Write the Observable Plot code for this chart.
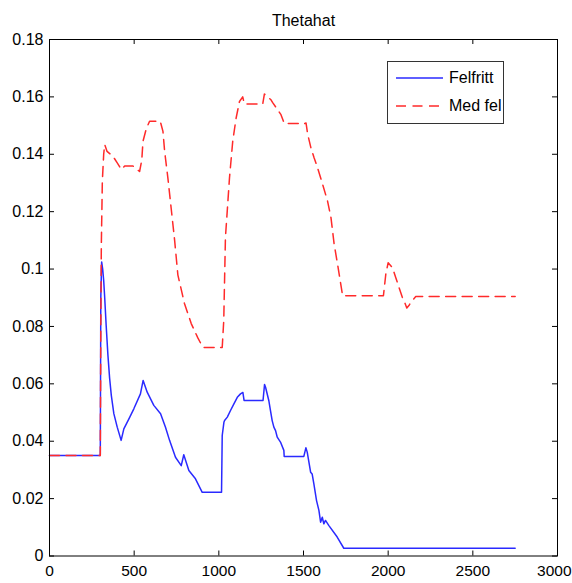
<!DOCTYPE html>
<html>
<head>
<meta charset="utf-8">
<script src="https://cdn.jsdelivr.net/npm/d3@7"></script>
<script src="https://cdn.jsdelivr.net/npm/@observablehq/plot@0.6"></script>
<style>
  html, body { margin: 0; padding: 0; background: #fff; }
  #wrap { position: relative; width: 572px; height: 583px; font-family: "Liberation Sans", Arial, sans-serif; }
  #legend { position: absolute; left: 387px; top: 61px; width: 115px; height: 61px; border: 1.5px solid #333; background: #fff; font-size: 16px; color: #000; }
  .row { position: absolute; left: 0; height: 20px; width: 100%; white-space: nowrap; }
  .row svg { position: absolute; left: 8px; top: 0; }
  .row span { position: absolute; left: 61px; top: 0; line-height: 20px; }
</style>
</head>
<body>
<div id="wrap"><div id="legend"></div></div>
<script>
const title = "Thetahat";
const seriesNames = ["Felfritt", "Med fel"];
const xTicks = [0, 500, 1000, 1500, 2000, 2500, 3000];
const yTicks = [0, 0.02, 0.04, 0.06, 0.08, 0.1, 0.12, 0.14, 0.16, 0.18];

const felfrittX = [0, 300, 303, 308, 314, 320, 326, 335, 345, 355, 365, 380, 400, 423, 439, 469, 498, 537, 553, 577, 616, 656, 685, 709, 744, 778, 793, 823, 862, 902, 1016, 1020, 1030, 1034, 1050, 1069, 1089, 1109, 1128, 1142, 1149, 1261, 1270, 1276, 1295, 1305, 1315, 1325, 1335, 1345, 1364, 1384, 1386, 1502, 1514, 1522, 1542, 1551, 1561, 1577, 1591, 1601, 1611, 1620, 1630, 1650, 1699, 1738, 2750];
const felfrittY = [0.035, 0.035, 0.09, 0.1025, 0.1, 0.096, 0.09, 0.08, 0.07, 0.062, 0.056, 0.0496, 0.0449, 0.0403, 0.0443, 0.0478, 0.0513, 0.0565, 0.0612, 0.0571, 0.0525, 0.0496, 0.0449, 0.0403, 0.0344, 0.0315, 0.0353, 0.0298, 0.0269, 0.0222, 0.0222, 0.042, 0.0466, 0.0472, 0.0484, 0.0507, 0.053, 0.0553, 0.0565, 0.057, 0.0542, 0.0542, 0.0598, 0.0588, 0.0542, 0.0507, 0.0472, 0.0449, 0.0437, 0.0414, 0.0397, 0.0368, 0.0347, 0.0347, 0.0377, 0.0362, 0.0292, 0.0286, 0.0252, 0.0193, 0.0159, 0.0118, 0.0135, 0.0112, 0.0124, 0.0106, 0.0066, 0.0027, 0.0027];

const medFelX = [0, 300, 303, 306, 312, 320, 326, 340, 375, 400, 424, 444, 493, 532, 545, 552, 572, 591, 654, 670, 680, 699, 739, 758, 797, 837, 876, 906, 1020, 1029, 1039, 1063, 1082, 1102, 1122, 1141, 1151, 1259, 1269, 1308, 1318, 1367, 1387, 1505, 1515, 1525, 1544, 1563, 1583, 1613, 1642, 1662, 1681, 1701, 1717, 1731, 1972, 1986, 2000, 2025, 2045, 2064, 2084, 2100, 2110, 2125, 2133, 2163, 2750];
const medFelY = [0.035, 0.035, 0.08, 0.108, 0.1306, 0.14, 0.1434, 0.141, 0.1393, 0.137, 0.1347, 0.1359, 0.1359, 0.134, 0.138, 0.1445, 0.149, 0.1515, 0.1515, 0.148, 0.141, 0.1318, 0.11, 0.098, 0.088, 0.081, 0.076, 0.0727, 0.0727, 0.082, 0.111, 0.1318, 0.1445, 0.1526, 0.1584, 0.160, 0.1575, 0.1575, 0.161, 0.159, 0.158, 0.1538, 0.1507, 0.1507, 0.1509, 0.1469, 0.1422, 0.1387, 0.1353, 0.1295, 0.1237, 0.118, 0.1087, 0.1017, 0.0959, 0.0907, 0.0907, 0.0982, 0.1022, 0.1005, 0.097, 0.0936, 0.0901, 0.088, 0.0864, 0.0875, 0.0884, 0.0904, 0.0904];

const blue = "#2a2aff", red = "#ff2a2a";
const dash = "10,6.5";

const felfritt = felfrittX.map((x, i) => ({x, y: felfrittY[i]}));
const medFel = medFelX.map((x, i) => ({x, y: medFelY[i]}));

const W = 572, H = 583, mL = 49, mR = 15, mT = 39, mB = 27.5, tk = 5;
const fw = W - mL - mR, fh = H - mT - mB;
const xAxisStyle = {tickSize: 0, tickPadding: 9, label: null, tickFormat: d => String(d), fontSize: 15.5};

const chart = Plot.plot({
  width: W, height: H,
  marginLeft: mL, marginRight: mR, marginTop: mT, marginBottom: mB,
  style: {fontFamily: '"Liberation Sans", Arial, sans-serif', fontSize: "16px", background: "#fff", color: "#000"},
  x: {domain: [0, 3000]},
  y: {domain: [0, 0.18]},
  marks: [
    Plot.axisX(xTicks.slice(0, -1), xAxisStyle),
    Plot.axisX(xTicks.slice(-1), {...xAxisStyle, textAnchor: "end", dx: 14}),
    Plot.axisY(yTicks, {tickSize: 0, tickPadding: 6, label: null, tickFormat: d => String(d), fontSize: 16}),
    Plot.tickY(yTicks, {y: d => d, insetRight: fw - tk, stroke: "#000"}),
    Plot.tickY(yTicks, {y: d => d, insetLeft: fw - tk, stroke: "#000"}),
    Plot.tickX(xTicks, {x: d => d, insetTop: fh - tk, stroke: "#000"}),
    Plot.tickX(xTicks, {x: d => d, insetBottom: fh - tk, stroke: "#000"}),
    Plot.line(felfritt, {x: "x", y: "y", stroke: blue, strokeWidth: 1.5}),
    Plot.line(medFel, {x: "x", y: "y", stroke: red, strokeWidth: 1.5, strokeDasharray: dash}),
    Plot.frame({stroke: "#000"}),
    Plot.text([title], {frameAnchor: "top", dy: -25, fontSize: 16, fill: "#000"})
  ]
});
const wrap = document.getElementById("wrap");
wrap.insertBefore(chart, wrap.firstChild);

const legend = document.getElementById("legend");
[[seriesNames[0], blue, null, 6], [seriesNames[1], red, dash, 34]].forEach(([name, col, da, top]) => {
  const row = document.createElement("div");
  row.className = "row";
  row.style.top = top + "px";
  row.innerHTML = `<svg width="48" height="20"><line x1="0" x2="47" y1="10" y2="10" stroke="${col}" stroke-width="1.5" ${da ? `stroke-dasharray="${da}"` : ""}/></svg><span>${name}</span>`;
  legend.appendChild(row);
});
</script>
</body>
</html>
